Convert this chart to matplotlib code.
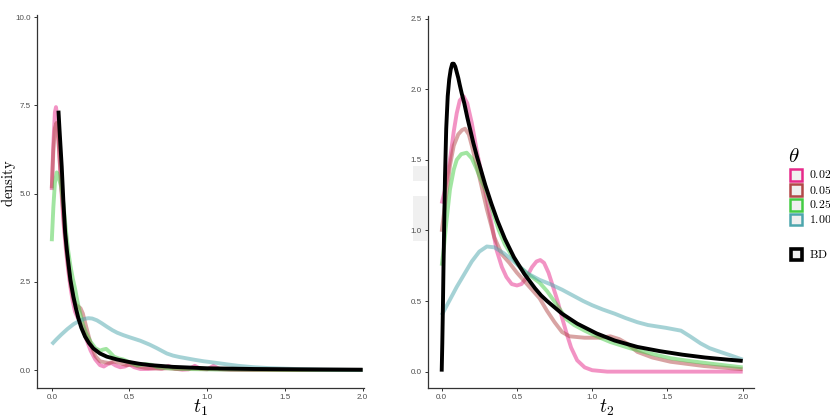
import numpy as np
import matplotlib
matplotlib.use("Agg")
import matplotlib.pyplot as plt
from matplotlib.patches import Rectangle

plt.rcParams['mathtext.fontset'] = 'cm'

# ---- data ----
thetas = ['0.02', '0.05', '0.25', '1.00']
colors = ['#e7298a', '#b24848', '#44cc44', '#4da6ad']

# panel 1 : t1
t1_002 = [0, 0.01, 0.02, 0.027, 0.035, 0.045, 0.06, 0.075, 0.09, 0.105, 0.12, 0.135, 0.15, 0.165,
          0.18, 0.2, 0.22, 0.25, 0.28, 0.31, 0.335, 0.36, 0.385, 0.41, 0.44, 0.47, 0.5, 0.53, 0.57,
          0.62, 0.67, 0.71, 0.75, 0.79, 0.84, 0.88, 0.92, 0.96, 1.0, 1.04, 1.08, 1.15, 1.3, 1.6, 2.0]
d1_002 = [5.1, 6.4, 7.3, 7.45, 7.2, 6.4, 5.2, 4.2, 3.45, 2.85, 2.35, 1.95, 1.65, 1.5,
          1.4, 1.2, 0.9, 0.55, 0.3, 0.14, 0.1, 0.17, 0.2, 0.13, 0.08, 0.1, 0.16, 0.08, 0.03,
          0.03, 0.05, 0.04, 0.12, 0.04, 0.01, 0.02, 0.12, 0.03, 0.02, 0.12, 0.03, 0.01, 0.0, 0.0, 0.0]

t1_005 = [0, 0.01, 0.02, 0.03, 0.04, 0.05, 0.065, 0.08, 0.095, 0.11, 0.125, 0.14, 0.155, 0.17,
          0.185, 0.2, 0.22, 0.25, 0.28, 0.31, 0.34, 0.37, 0.4, 0.44, 0.48, 0.52, 0.56, 0.6, 0.65,
          0.7, 0.75, 0.8, 0.9, 1.0, 1.1, 1.3, 1.6, 2.0]
d1_005 = [5.15, 6.2, 6.85, 7.0, 6.7, 6.0, 5.0, 4.1, 3.4, 2.8, 2.35, 2.0, 1.85, 1.8,
          1.75, 1.6, 1.25, 0.75, 0.4, 0.25, 0.22, 0.2, 0.24, 0.2, 0.14, 0.15, 0.1, 0.06, 0.05,
          0.04, 0.05, 0.03, 0.04, 0.03, 0.02, 0.01, 0.0, 0.0]

t1_025 = [0, 0.01, 0.02, 0.032, 0.045, 0.06, 0.075, 0.09, 0.105, 0.12, 0.135, 0.15, 0.165, 0.18,
          0.2, 0.22, 0.25, 0.28, 0.31, 0.33, 0.35, 0.37, 0.4, 0.43, 0.46, 0.5, 0.55, 0.6, 0.64,
          0.68, 0.75, 0.85, 1.0, 1.2, 1.5, 2.0]
d1_025 = [3.65, 4.6, 5.3, 5.6, 5.45, 5.2, 4.7, 4.0, 3.4, 2.95, 2.6, 2.3, 1.95, 1.65,
          1.3, 1.05, 0.8, 0.62, 0.55, 0.58, 0.6, 0.52, 0.38, 0.33, 0.3, 0.22, 0.13, 0.17, 0.15,
          0.08, 0.05, 0.03, 0.02, 0.01, 0.0, 0.0]

t1_100 = [0, 0.03, 0.06, 0.1, 0.14, 0.18, 0.21, 0.236, 0.26, 0.29, 0.32, 0.354, 0.39, 0.42,
          0.46, 0.5, 0.57, 0.63, 0.676, 0.71, 0.74, 0.78, 0.82, 0.87, 0.92, 0.976, 1.03, 1.08,
          1.13, 1.2, 1.3, 1.4, 1.5, 1.6, 1.75, 2.0]
d1_100 = [0.73, 0.87, 1.0, 1.16, 1.3, 1.4, 1.45, 1.47, 1.46, 1.41, 1.33, 1.23, 1.13, 1.06,
          0.99, 0.93, 0.83, 0.72, 0.62, 0.54, 0.47, 0.41, 0.37, 0.33, 0.29, 0.25, 0.22, 0.19,
          0.16, 0.12, 0.08, 0.055, 0.04, 0.025, 0.01, 0.0]

t1_bd = [0.043, 0.05, 0.064, 0.075, 0.086, 0.097, 0.107, 0.12, 0.139, 0.155, 0.171, 0.19, 0.214,
         0.24, 0.268, 0.31, 0.354, 0.42, 0.483, 0.56, 0.633, 0.78, 1.0, 1.3, 1.6, 2.0]
d1_bd = [7.35, 6.8, 5.76, 4.75, 3.9, 3.4, 3.02, 2.55, 2.08, 1.75, 1.47, 1.2, 0.95,
         0.76, 0.61, 0.47, 0.38, 0.3, 0.24, 0.18, 0.14, 0.09, 0.05, 0.03, 0.02, 0.01]

# panel 2 : t2
t2_002 = [0, 0.02, 0.04, 0.06, 0.08, 0.1, 0.12, 0.145, 0.17, 0.2, 0.232, 0.265, 0.3, 0.335, 0.365,
          0.4, 0.43, 0.465, 0.5, 0.53, 0.56, 0.6, 0.63, 0.655, 0.68, 0.71, 0.74, 0.77, 0.8, 0.83,
          0.86, 0.9, 0.95, 1.0, 1.1, 1.3, 1.6, 2.0]
d2_002 = [1.19, 1.28, 1.4, 1.54, 1.7, 1.83, 1.92, 1.95, 1.9, 1.76, 1.57, 1.4, 1.22, 1.03, 0.86,
          0.74, 0.67, 0.62, 0.61, 0.62, 0.66, 0.74, 0.78, 0.79, 0.77, 0.7, 0.6, 0.5, 0.38, 0.27,
          0.17, 0.08, 0.03, 0.01, 0.0, 0.0, 0.0, 0.0]

t2_005 = [0, 0.03, 0.055, 0.08, 0.11, 0.135, 0.155, 0.18, 0.2, 0.25, 0.3, 0.35, 0.4, 0.45, 0.5,
          0.55, 0.6, 0.65, 0.7, 0.75, 0.8, 0.85, 0.95, 1.05, 1.12, 1.18, 1.23, 1.3, 1.4, 1.52,
          1.74, 2.0]
d2_005 = [0.99, 1.25, 1.46, 1.6, 1.68, 1.71, 1.72, 1.68, 1.6, 1.38, 1.15, 0.95, 0.83, 0.77, 0.7,
          0.64, 0.58, 0.52, 0.43, 0.35, 0.28, 0.25, 0.24, 0.24, 0.25, 0.23, 0.2, 0.14, 0.1, 0.07,
          0.04, 0.017]

t2_025 = [0, 0.015, 0.03, 0.055, 0.08, 0.1, 0.13, 0.166, 0.2, 0.23, 0.26, 0.3, 0.34, 0.38, 0.42,
          0.455, 0.49, 0.52, 0.56, 0.6, 0.65, 0.7, 0.74, 0.78, 0.83, 0.88, 0.95, 1.03, 1.12, 1.25,
          1.38, 1.52, 1.65, 1.8, 2.0]
d2_025 = [0.75, 0.88, 1.05, 1.29, 1.43, 1.5, 1.54, 1.55, 1.51, 1.44, 1.36, 1.27, 1.13, 1.0, 0.9,
          0.84, 0.78, 0.74, 0.7, 0.67, 0.63, 0.57, 0.51, 0.45, 0.37, 0.33, 0.29, 0.25, 0.21, 0.166,
          0.13, 0.095, 0.075, 0.055, 0.03]

t2_100 = [0, 0.05, 0.1, 0.15, 0.2, 0.25, 0.3, 0.35, 0.41, 0.47, 0.52, 0.58, 0.65, 0.72, 0.8, 0.87,
          0.94, 1.0, 1.07, 1.15, 1.22, 1.3, 1.37, 1.43, 1.49, 1.54, 1.59, 1.65, 1.72, 1.78, 1.85,
          1.92, 2.0]
d2_100 = [0.4, 0.5, 0.6, 0.69, 0.78, 0.85, 0.886, 0.88, 0.84, 0.79, 0.74, 0.69, 0.65, 0.62, 0.58,
          0.54, 0.5, 0.47, 0.44, 0.41, 0.38, 0.35, 0.33, 0.32, 0.31, 0.3, 0.29, 0.25, 0.2, 0.166,
          0.14, 0.115, 0.085]

t2_bd = [0, 0.004, 0.008, 0.012, 0.016, 0.022, 0.03, 0.04, 0.05, 0.06, 0.07, 0.08, 0.09, 0.1,
         0.11, 0.12, 0.133, 0.15, 0.17, 0.19, 0.21, 0.235, 0.26, 0.29, 0.33, 0.37, 0.42, 0.48,
         0.55, 0.62, 0.66, 0.7, 0.8, 0.9, 1.03, 1.15, 1.3, 1.45, 1.6, 1.75, 1.9, 2.0]
d2_bd = [0.0, 0.2, 0.45, 0.75, 1.0, 1.38, 1.72, 1.95, 2.07, 2.14, 2.18, 2.18, 2.16, 2.12,
         2.08, 2.03, 1.97, 1.9, 1.8, 1.71, 1.62, 1.52, 1.43, 1.32, 1.19, 1.07, 0.94, 0.81,
         0.69, 0.59, 0.54, 0.5, 0.41, 0.34, 0.27, 0.22, 0.175, 0.145, 0.12, 0.1, 0.085, 0.076]

panel1 = [(t1_002, d1_002), (t1_005, d1_005), (t1_025, d1_025), (t1_100, d1_100)]
panel2 = [(t2_002, d2_002), (t2_005, d2_005), (t2_025, d2_025), (t2_100, d2_100)]

W, H = 830, 418
fig = plt.figure(figsize=(8.3, 4.18), dpi=100)

def px_axes(x0, y0, x1, y1):
    return fig.add_axes([x0 / W, 1 - y1 / H, (x1 - x0) / W, (y1 - y0) / H])

# light grey blocks left of panel 2 (behind everything)
for y0, y1 in [(166, 181), (196, 240.7)]:
    fig.patches.append(Rectangle((412.7 / W, 1 - y1 / H), 14 / W, (y1 - y0) / H,
                                 transform=fig.transFigure, facecolor='#f0f0f0',
                                 edgecolor='none', zorder=-5))

ax1 = px_axes(36.7, 15, 364.3, 387.7)
ax2 = px_axes(427.7, 15.7, 754.3, 388.3)

for ax, series, bd in [(ax1, panel1, (t1_bd, d1_bd)), (ax2, panel2, (t2_bd, d2_bd))]:
    ax.patch.set_alpha(0)
    for (t, d), c in zip(series, colors):
        ax.plot(t, d, color=c, lw=2.8, alpha=0.5, solid_capstyle='butt')
    ax.plot(bd[0], bd[1], color='black', lw=2.8, solid_capstyle='butt')
    for s in ['top', 'right']:
        ax.spines[s].set_visible(False)
    for s in ['left', 'bottom']:
        ax.spines[s].set_color('#333333')
        ax.spines[s].set_linewidth(0.9)
    ax.tick_params(length=2.2, width=0.7, color='#333333', labelsize=5.8,
                   labelcolor='#4d4d4d', pad=2)
    ax.set_xticks([0, 0.5, 1.0, 1.5, 2.0])
    ax.set_xticklabels(['0.0', '0.5', '1.0', '1.5', '2.0'], family='Liberation Sans')

ax1.set_xlim(-0.097, 2.011)
ax1.set_ylim(-0.5, 10.06)
ax1.set_yticks([0, 2.5, 5, 7.5, 10])
ax1.set_yticklabels(['0.0', '2.5', '5.0', '7.5', '10.0'], family='Liberation Sans')

ax2.set_xlim(-0.093, 2.077)
ax2.set_ylim(-0.118, 2.52)
ax2.set_yticks([0, 0.5, 1.0, 1.5, 2.0, 2.5])
ax2.set_yticklabels(['0.0', '0.5', '1.0', '1.5', '2.0', '2.5'], family='Liberation Sans')

# axis titles
fig.text(200.5 / W, 1 - 408 / H, r'$t_1$', fontsize=14, ha='center', va='center')
fig.text(606.5 / W, 1 - 408 / H, r'$t_2$', fontsize=14, ha='center', va='center')
fig.text(8.5 / W, 1 - 183 / H, r'$\mathrm{density}$', fontsize=10.5, rotation=90,
         ha='center', va='center')

# legend
fig.text(794 / W, 1 - 156 / H, r'$\theta$', fontsize=15, ha='center', va='center')
key_y = [175, 190, 205, 219.5]
for lab, c, yc in zip(thetas, colors, key_y):
    fig.patches.append(Rectangle((790.3 / W, 1 - (yc + 5.6) / H), 11.4 / W, 11.2 / H,
                                 transform=fig.transFigure, facecolor='#f0f0f0',
                                 edgecolor=c, lw=1.8))
    fig.text(808.5 / W, 1 - yc / H, r'$\mathrm{' + lab + '}$', fontsize=8.5,
             ha='left', va='center')
fig.patches.append(Rectangle((790.8 / W, 1 - 259.5 / H), 10.8 / W, 10.8 / H,
                             transform=fig.transFigure, facecolor='#f0f0f0',
                             edgecolor='black', lw=2.6))
fig.text(808.5 / W, 1 - 254 / H, r'$\mathrm{BD}$', fontsize=8.5, ha='left', va='center')

fig.savefig('out.png', dpi=100)
